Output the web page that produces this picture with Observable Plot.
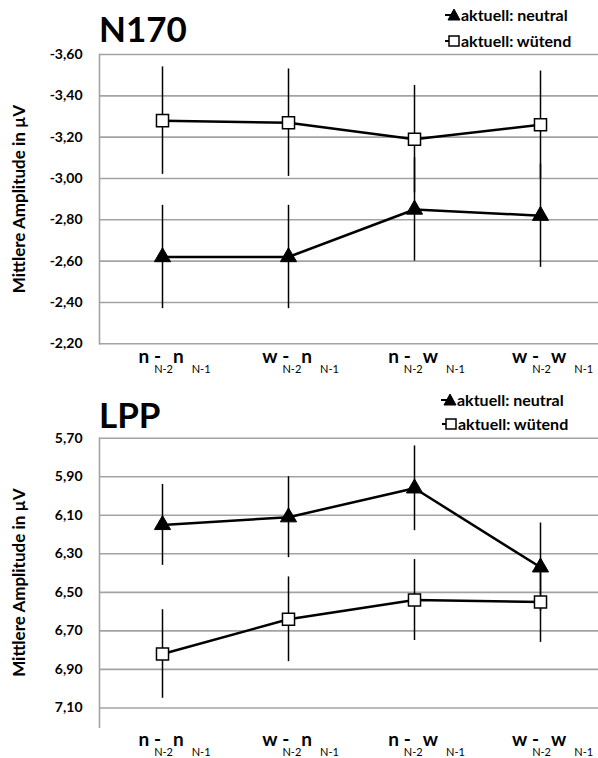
<!DOCTYPE html>
<html><head><meta charset="utf-8">
<script src="https://cdn.jsdelivr.net/npm/d3@7"></script>
<script src="https://cdn.jsdelivr.net/npm/@observablehq/plot@0.6"></script>
<style>
html,body{margin:0;background:#fff;overflow:hidden;width:598px;}
.panel{position:relative;width:598px;overflow:hidden;}
.panel svg{display:block;}
.title{position:absolute;font-family:Lato,sans-serif;font-weight:bold;font-size:35px;line-height:35px;color:#000;white-space:nowrap;}
.leg{position:absolute;display:flex;align-items:center;height:16px;font-family:Lato,sans-serif;font-weight:bold;font-size:16px;line-height:16px;color:#000;white-space:nowrap;}
.leg svg{display:block;}
</style></head><body>
<div id="top" class="panel"></div>
<div id="bottom" class="panel"></div>
<script>
// ---- data ----
const categories = ["nn", "wn", "nw", "ww"];
const prevLetter = ["n", "w", "n", "w"];
const currLetter = ["n", "n", "w", "w"];
const subPrev = "N-2";
const subCurr = "N-1";
const seriesNames = ["aktuell: neutral", "aktuell: wütend"];

const n170Neutral    = [-2.62, -2.62, -2.85, -2.82];
const n170NeutralErr = [0.25, 0.25, 0.25, 0.25];
const n170Wuetend    = [-3.28, -3.27, -3.19, -3.26];
const n170WuetendErr = [0.26, 0.26, 0.26, 0.26];

const lppNeutral    = [6.15, 6.11, 5.96, 6.37];
const lppNeutralErr = [0.21, 0.21, 0.22, 0.23];
const lppWuetend    = [6.82, 6.64, 6.54, 6.55];
const lppWuetendErr = [0.23, 0.22, 0.21, 0.21];

const n170Ticks = [-3.6, -3.4, -3.2, -3.0, -2.8, -2.6, -2.4, -2.2];
const lppTicks  = [5.7, 5.9, 6.1, 6.3, 6.5, 6.7, 6.9, 7.1];
const n170Domain = [-2.2, -3.6];
const lppDomain  = [7.2, 5.7];
const yLabel = "Mittlere Amplitude in µV";
const titles = ["N170", "LPP"];

// ---- helpers ----
const fmt = d => d.toFixed(2).replace(".", ",");
const rowsOf = (vals, errs, series) => vals.map((v, i) => ({cat: categories[i], v, lo: v - errs[i], hi: v + errs[i], series}));

const ctx = document.createElement("canvas").getContext("2d");
const measure = (t, font) => { ctx.font = font; return ctx.measureText(t).width; };
const bigFont = "bold 19px Lato";
const subFont = "11px Lato";

function xLabelMarks() {
  const marks = [];
  categories.forEach((c, i) => {
    const a = prevLetter[i], b = currLetter[i];
    const wa = measure(a, bigFont), ws2 = measure(subPrev, subFont), wb = measure(b, bigFont), ws1 = measure(subCurr, subFont);
    const gap1 = 5, gap2 = 8;
    const total = wa + gap1 + ws2 + wb + gap2 + ws1;
    const x0 = -total / 2 + 12;
    const pieces = [
      {t: a, dx: x0, big: true, anchor: "start"},
      {t: subPrev, dx: x0 + wa + gap1, big: false, anchor: "start"},
      {t: "-", dx: x0 + wa + gap1 + 3.5, big: true, anchor: "middle"},
      {t: b, dx: x0 + wa + gap1 + ws2, big: true, anchor: "start"},
      {t: subCurr, dx: x0 + wa + gap1 + ws2 + wb + gap2, big: false, anchor: "start"}
    ];
    for (const p of pieces) {
      marks.push(Plot.text([c], {
        x: d => d, text: () => p.t, frameAnchor: "bottom", lineAnchor: "bottom",
        textAnchor: p.anchor, dx: p.dx, dy: p.big ? 19 : 29,
        fontSize: p.big ? 19 : 11, fontWeight: p.big ? "bold" : "normal", fill: "black"
      }));
    }
  });
  return marks;
}

function makeChart({height, marginTop, marginBottom, domain, ticks, neutral, nErr, wuetend, wErr}) {
  const nRows = rowsOf(neutral, nErr, seriesNames[0]);
  const wRows = rowsOf(wuetend, wErr, seriesNames[1]);
  const all = nRows.concat(wRows);
  return Plot.plot({
    width: 598, height, marginTop, marginBottom, marginLeft: 99, marginRight: 0,
    style: {fontFamily: "Lato, sans-serif", fontSize: "14px", fontWeight: "bold", color: "black", background: "white"},
    x: {type: "point", domain: categories, range: [99, 603], padding: 0.5, axis: null},
    y: {domain, axis: null},
    marks: [
      Plot.gridY(ticks, {stroke: "#a3a3a3", strokeOpacity: 1, strokeWidth: 1.6}),
      Plot.frame({anchor: "left", stroke: "#a3a3a3", strokeOpacity: 1, strokeWidth: 1.6}),
      Plot.axisY(ticks, {anchor: "left", tickSize: 0, tickPadding: 17, tickFormat: fmt, label: null, fontSize: 14, fontWeight: "bold", fill: "black"}),
      Plot.text([yLabel], {text: d => d, frameAnchor: "left", textAnchor: "middle", lineAnchor: "middle", rotate: -90, dx: -80, fontSize: 17, fontWeight: "bold", fill: "black"}),
      Plot.ruleX(all, {x: "cat", y1: "lo", y2: "hi", stroke: "black", strokeWidth: 1.5}),
      Plot.line(nRows, {x: "cat", y: "v", stroke: "black", strokeWidth: 2.5}),
      Plot.line(wRows, {x: "cat", y: "v", stroke: "black", strokeWidth: 2.5}),
      Plot.dot(nRows, {x: "cat", y: "v", symbol: "triangle", r: 6, fill: "black", stroke: "black", strokeWidth: 1}),
      Plot.dot(wRows, {x: "cat", y: "v", symbol: "square", r: 6.8, fill: "white", stroke: "black", strokeWidth: 1.5}),
      ...xLabelMarks()
    ]
  });
}

function legendRow(name, kind, cx, cy) {
  const div = document.createElement("div");
  div.className = "leg";
  div.style.left = (cx - 9) + "px";
  div.style.top = (cy - 8) + "px";
  const marker = kind === "triangle"
    ? `<polygon points="9,2 15,13 3,13" fill="black" stroke="black" stroke-width="1"/>`
    : `<rect x="4" y="3" width="10" height="10" fill="white" stroke="black" stroke-width="1.5"/>`;
  div.innerHTML = `<svg width="16" height="16"><line x1="0" y1="8" x2="8" y2="8" stroke="black" stroke-width="2"/>${marker}</svg><span>${name}</span>`;
  return div;
}

function addTitle(panel, text, left, top) {
  const t = document.createElement("div");
  t.className = "title";
  t.textContent = text;
  t.style.left = left + "px";
  t.style.top = top + "px";
  panel.appendChild(t);
}

const topPanel = document.getElementById("top");
topPanel.appendChild(makeChart({height: 380, marginTop: 54, marginBottom: 36.7, domain: n170Domain, ticks: n170Ticks,
  neutral: n170Neutral, nErr: n170NeutralErr, wuetend: n170Wuetend, wErr: n170WuetendErr}));
addTitle(topPanel, titles[0], 99, 11);
topPanel.appendChild(legendRow(seriesNames[0], "triangle", 454, 15));
topPanel.appendChild(legendRow(seriesNames[1], "square", 454, 41));

const bottomPanel = document.getElementById("bottom");
bottomPanel.appendChild(makeChart({height: 378, marginTop: 57.7, marginBottom: 31.3, domain: lppDomain, ticks: lppTicks,
  neutral: lppNeutral, nErr: lppNeutralErr, wuetend: lppWuetend, wErr: lppWuetendErr}));
addTitle(bottomPanel, titles[1], 99, 17);
bottomPanel.appendChild(legendRow(seriesNames[0], "triangle", 450, 20));
bottomPanel.appendChild(legendRow(seriesNames[1], "square", 451, 44));
</script>
</body></html>
